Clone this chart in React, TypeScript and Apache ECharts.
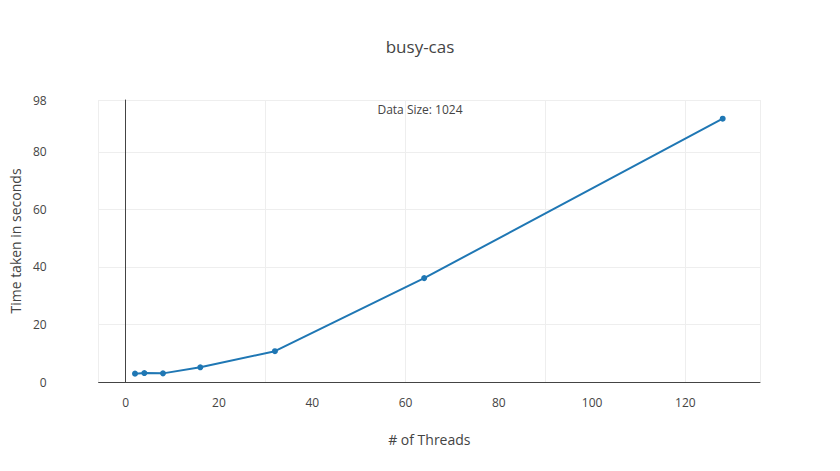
import * as echarts from "echarts";
import React, { useEffect, useRef } from "react";

const threads = [2, 4, 8, 16, 32, 64, 128];
const seconds = [2.9, 3.1, 3.0, 5.1, 10.7, 36.1, 91.5];
const xTicks = [0, 20, 40, 60, 80, 100, 120];

const App: React.FC = () => {
  const chartRef = useRef<HTMLDivElement | null>(null);

  useEffect(() => {
    if (!chartRef.current) return;
    const chart = echarts.init(chartRef.current, undefined, { renderer: "svg" });
    const font = "Open Sans";
    const option: echarts.EChartsOption = {
      animation: false,
      textStyle: { fontFamily: font },
      title: {
        text: "busy-cas",
        left: "center",
        top: 33,
        textStyle: { fontFamily: font, fontSize: 17, fontWeight: "normal", color: "#444" },
      },
      graphic: [
        {
          type: "text",
          left: "center",
          top: 103,
          style: { text: "Data Size: 1024", font: `12px "${font}"`, fill: "#444" },
        },
      ],
      grid: { left: 80, right: 80, top: 100, bottom: 89 },
      xAxis: {
        type: "value",
        min: -5.8,
        max: 136,
        name: "# of Threads",
        nameLocation: "middle",
        nameGap: 50,
        nameTextStyle: { fontSize: 14, color: "#444" },
        axisLine: { show: true, lineStyle: { color: "#444" } },
        axisTick: { show: false },
        axisLabel: { customValues: xTicks, color: "#444", fontSize: 12, margin: 14 },
        splitLine: { show: true, lineStyle: { color: "#eee" } },
      },
      yAxis: {
        type: "value",
        min: 0,
        max: 98,
        interval: 20,
        name: "Time taken in seconds",
        nameLocation: "middle",
        nameGap: 64,
        nameTextStyle: { fontSize: 14, color: "#444" },
        axisLine: { show: true, onZero: true, lineStyle: { color: "#444" } },
        axisTick: { show: false },
        axisLabel: { color: "#444", fontSize: 12, margin: 52 },
        splitLine: { show: true, lineStyle: { color: "#eee" } },
      },
      series: [
        {
          type: "line",
          data: threads.map((t, i) => [t, seconds[i]]),
          symbol: "circle",
          symbolSize: 6,
          color: "#1f77b4",
          lineStyle: { width: 2, color: "#1f77b4" },
        },
      ],
    };
    chart.setOption(option);
    return () => chart.dispose();
  }, []);

  return (
    <div
      ref={chartRef}
      style={{ position: "fixed", left: 0, top: 0, width: "840px", height: "471px", background: "#fff" }}
    />
  );
};

export default App;
